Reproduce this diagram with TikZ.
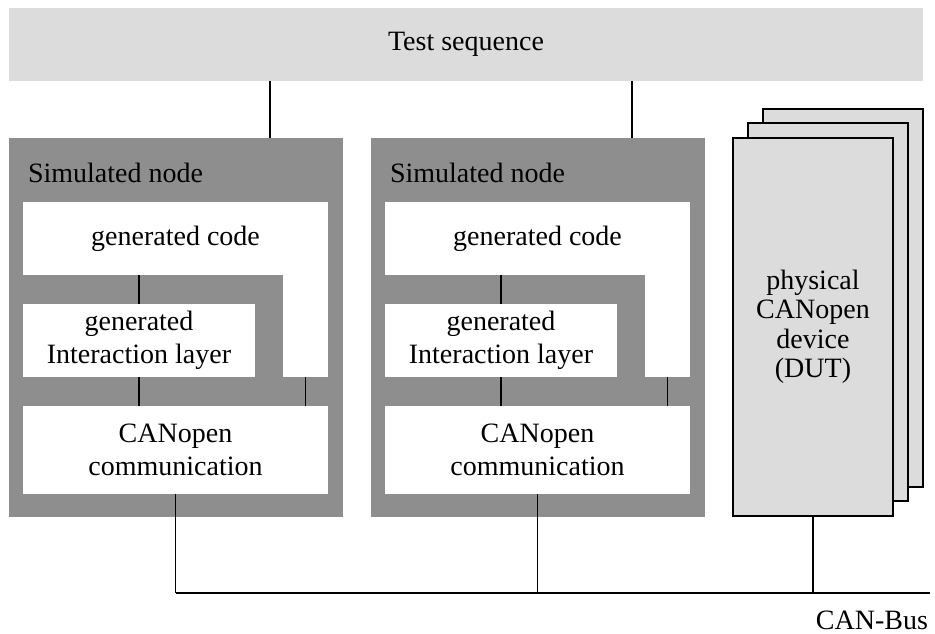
\documentclass[tikz,border=0pt]{standalone}
\usepackage{fontspec}
\setmainfont{Liberation Serif}
\definecolor{barg}{HTML}{DCDCDC}
\definecolor{nodeg}{HTML}{8E8E8E}
\begin{document}
\begin{tikzpicture}[x=1pt,y=-1pt,
  font=\fontsize{28}{33}\selectfont,
  blk/.style={inner sep=0pt, outer sep=0pt, anchor=north west, draw=none},
  lgray/.style={blk, fill=barg},
  dgray/.style={blk, fill=nodeg},
  wbox/.style={blk, fill=white, align=center},
  card/.style={blk, fill=barg, draw=black, line width=1.4pt, align=center,
    minimum width=160pt, minimum height=378pt},
  conn/.style={draw=black, line width=1.3pt},
  plain/.style={inner sep=0pt, outer sep=0pt}]
\path[use as bounding box] (0,0) rectangle (935,634);

\node[lgray, minimum width=914pt, minimum height=73pt] (ts) at (9,8) {Test sequence};

\coordinate (busend) at (930,593);

\foreach \s/\o in {l/0,m/362}{
  \node[dgray, minimum width=334pt, minimum height=379pt] (\s node) at (9+\o,138) {};
  \node[plain, anchor=base west] (\s title) at (28+\o,182) {Simulated node};
  \node[wbox, minimum width=305pt, minimum height=73pt] (\s code) at (23+\o,202) {generated code};
  \node[wbox, minimum width=45pt, minimum height=103pt] (\s leg) at (283+\o,274) {};
  \node[wbox, minimum width=232pt, minimum height=73pt] (\s int) at (23+\o,304) {generated\\Interaction layer};
  \node[wbox, minimum width=305pt, minimum height=88pt] (\s can) at (23+\o,406) {CANopen\\communication};
  \draw[conn] (\s node.north west) ++(261,0) coordinate (\s top) -- (\s top |- ts.south);
  \draw[conn] (\s int.north) -- (\s int.north |- \s code.south);
  \draw[conn] (\s int.south) -- (\s int.south |- \s can.north);
  \draw[conn] (\s leg.south) -- (\s leg.south |- \s can.north);
  \draw[conn] (\s can.south) -- (\s can.south |- busend);
}

\node[card] (dev3) at (763,109) {};
\node[card] (dev2) at (748,123) {};
\node[card, font=\fontsize{28}{29.5}\selectfont] (dev1) at (733,138) {physical\\CANopen\\device\\(DUT)};
\draw[conn] (dev1.south) -- (dev1.south |- busend);

\draw[conn] (lcan.south |- busend) -- (busend);
\node[plain, anchor=base east] (busl) at (928,629) {CAN-Bus};
\end{tikzpicture}
\end{document}
